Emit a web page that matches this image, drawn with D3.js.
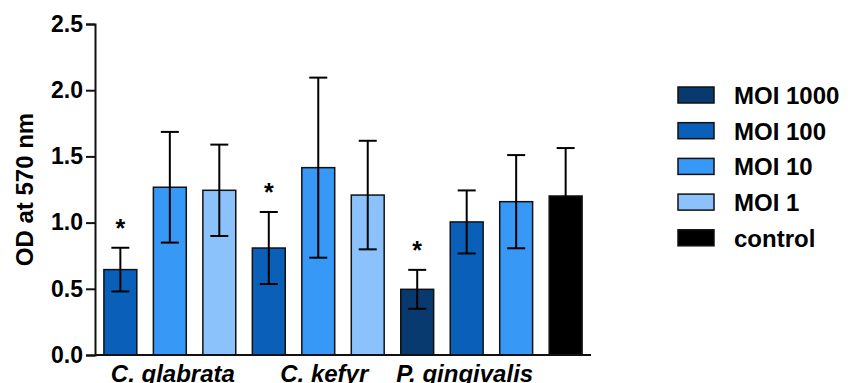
<!DOCTYPE html>
<html>
<head>
<meta charset="utf-8">
<script src="https://cdn.jsdelivr.net/npm/d3@7"></script>
<style>
body { margin: 0; background: #fff; }
svg text { font-family: "Liberation Sans", Arial, sans-serif; font-weight: bold; }
</style>
</head>
<body>
<svg id="chart" width="856" height="383"></svg>
<script>
// data
var groups = ["C. glabrata", "C. kefyr", "P. gingivalis"];
var groupBars = [[0, 2], [3, 5], [6, 8]];
var series = ["MOI 1000", "MOI 100", "MOI 10", "MOI 1", "control"];
var seriesColors = ["#083a70", "#0a60b8", "#3898f5", "#8cc2fb", "#000000"];
var barSeries = ["MOI 100", "MOI 10", "MOI 1", "MOI 100", "MOI 10", "MOI 1", "MOI 1000", "MOI 100", "MOI 10", "control"];
var barMeans = [0.645, 1.267, 1.244, 0.808, 1.415, 1.208, 0.496, 1.005, 1.158, 1.201];
var barErrors = [0.165, 0.418, 0.345, 0.272, 0.68, 0.41, 0.147, 0.238, 0.352, 0.362];
var barStars = [true, false, false, true, false, false, true, false, false, false];
var yTicks = [0, 0.5, 1.0, 1.5, 2.0, 2.5];

var svg = d3.select("#chart");
var plotLeft = 95, plotRight = 591, plotTop = 24, plotBottom = 355;
var labelShift = [3, 6, -2];

var x = d3.scaleBand()
    .domain(d3.range(barMeans.length))
    .range([plotLeft, plotRight])
    .paddingInner(0.335)
    .paddingOuter(0.18);
var y = d3.scaleLinear().domain([0, 2.5]).range([plotBottom, plotTop]);
var color = d3.scaleOrdinal().domain(series).range(seriesColors);
var bars = barMeans.map(function(d, i){
    return {i: i, mean: d, err: barErrors[i], star: barStars[i], series: barSeries[i]};
});

// bars
svg.selectAll(".bar")
    .data(bars)
    .enter().append("rect")
    .attr("class", "bar")
    .attr("x", function(d){ return x(d.i); })
    .attr("y", function(d){ return y(d.mean); })
    .attr("width", x.bandwidth())
    .attr("height", function(d){ return y(0) - y(d.mean); })
    .attr("fill", function(d){ return color(d.series); })
    .attr("stroke", "#111")
    .attr("stroke-width", 1.5);

// error bars
var err = svg.selectAll(".err")
    .data(bars)
    .enter().append("g")
    .attr("class", "err")
    .attr("stroke", "#000")
    .attr("stroke-width", 2);
err.append("line")
    .attr("x1", function(d){ return x(d.i) + x.bandwidth()/2; })
    .attr("x2", function(d){ return x(d.i) + x.bandwidth()/2; })
    .attr("y1", function(d){ return y(d.mean - d.err); })
    .attr("y2", function(d){ return y(d.mean + d.err); });
[1, -1].forEach(function(s){
    err.append("line")
        .attr("x1", function(d){ return x(d.i) + x.bandwidth()/2 - 9; })
        .attr("x2", function(d){ return x(d.i) + x.bandwidth()/2 + 9; })
        .attr("y1", function(d){ return y(d.mean + s*d.err); })
        .attr("y2", function(d){ return y(d.mean + s*d.err); });
});

// significance stars
svg.selectAll(".star")
    .data(bars.filter(function(d){ return d.star; }))
    .enter().append("text")
    .attr("class", "star")
    .attr("x", function(d){ return x(d.i) + x.bandwidth()/2; })
    .attr("y", function(d){ return y(d.mean + d.err) - 11; })
    .attr("text-anchor", "middle")
    .style("font-size", "25px")
    .text("*");

// y axis
var yAxis = svg.append("g")
    .attr("transform", "translate(" + plotLeft + ",0)")
    .call(d3.axisLeft(y).tickValues(yTicks).tickFormat(d3.format(".1f")).tickSize(9).tickPadding(3));
yAxis.select(".domain").attr("stroke", "#111").attr("stroke-width", 2);
yAxis.selectAll(".tick line").attr("stroke", "#111").attr("stroke-width", 2);
yAxis.selectAll(".tick text").style("font-size", "23px").attr("fill", "#000").attr("font-family", null);

// x baseline
svg.append("line")
    .attr("x1", plotLeft).attr("x2", plotRight)
    .attr("y1", y(0)).attr("y2", y(0))
    .attr("stroke", "#111").attr("stroke-width", 2);

// group labels
svg.selectAll(".glabel")
    .data(groups)
    .enter().append("text")
    .attr("class", "glabel")
    .attr("x", function(d, i){ return (x(groupBars[i][0]) + x(groupBars[i][1]) + x.bandwidth())/2 + labelShift[i]; })
    .attr("y", 382)
    .attr("text-anchor", "middle")
    .style("font-size", "24px")
    .style("font-style", "italic")
    .text(function(d){ return d; });

// y title
svg.append("text")
    .attr("transform", "translate(33," + (plotTop + plotBottom)/2 + ") rotate(-90)")
    .attr("text-anchor", "middle")
    .style("font-size", "24px")
    .text("OD at 570 nm");

// legend
var legend = svg.selectAll(".legend")
    .data(series)
    .enter().append("g")
    .attr("class", "legend")
    .attr("transform", function(d, i){ return "translate(678," + (87 + i*35.7) + ")"; });
legend.append("rect")
    .attr("width", 36).attr("height", 16)
    .attr("fill", function(d){ return color(d); })
    .attr("stroke", "#111").attr("stroke-width", 1.5);
legend.append("text")
    .attr("x", 56).attr("y", 17)
    .style("font-size", "24px")
    .text(function(d){ return d; });
</script>
</body>
</html>
